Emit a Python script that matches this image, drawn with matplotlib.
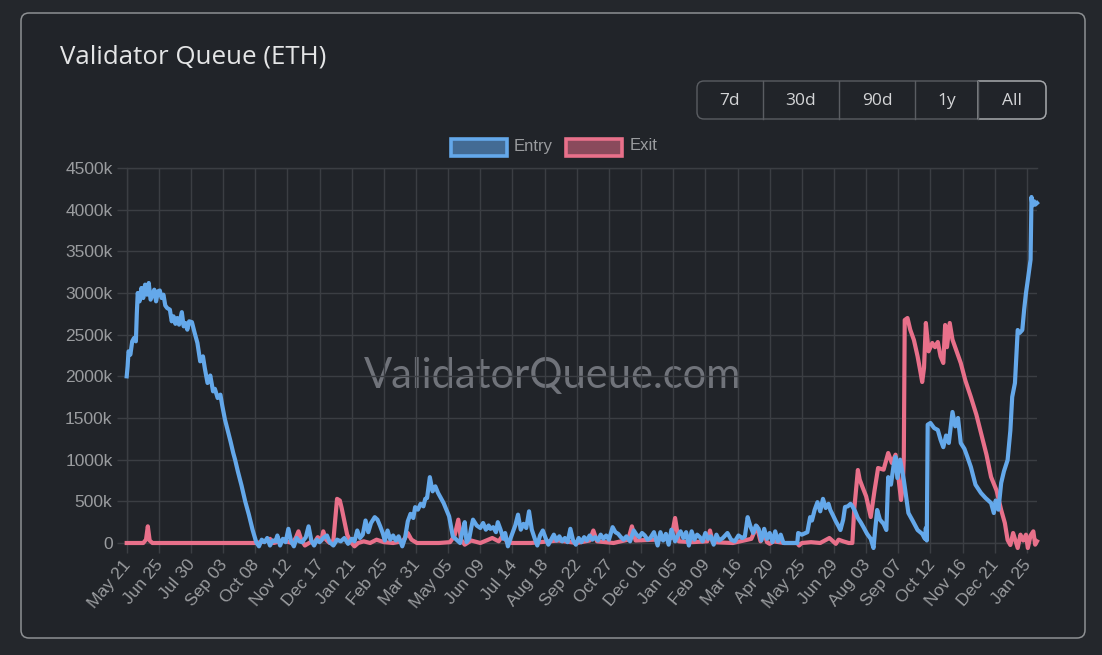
import matplotlib
matplotlib.use('Agg')
import matplotlib.pyplot as plt
from matplotlib.patches import FancyBboxPatch, PathPatch, Rectangle
from matplotlib.path import Path
from matplotlib.transforms import ScaledTranslation

# x axis is in days since the first label, values are thousands of ETH
date_labels = ['May 21', 'Jun 25', 'Jul 30', 'Sep 03', 'Oct 08', 'Nov 12', 'Dec 17', 'Jan 21', 'Feb 25', 'Mar 31',
               'May 05', 'Jun 09', 'Jul 14', 'Aug 18', 'Sep 22', 'Oct 27', 'Dec 01', 'Jan 05', 'Feb 09', 'Mar 16',
               'Apr 20', 'May 25', 'Jun 29', 'Aug 03', 'Sep 07', 'Oct 12', 'Nov 16', 'Dec 21', 'Jan 25']
date_ticks = [35 * i for i in range(len(date_labels))]
value_ticks = [0, 500, 1000, 1500, 2000, 2500, 3000, 3500, 4000, 4500]
range_buttons = ['7d', '30d', '90d', '1y', 'All']

# (day, value)
entry_points = [
    (0, 2000), (1, 2120), (2, 2300), (4, 2260), (6, 2420), (8, 2460), (10, 2420), (11, 2750), (12, 3000), (14, 2900),
    (16, 3060), (18, 2940), (20, 3100), (22, 2980), (24, 3120), (26, 2920), (28, 2980), (30, 3040), (32, 2900),
    (34, 3020), (36, 3030), (38, 2940), (40, 2980), (42, 2850), (44, 2820), (47, 2800), (49, 2660), (51, 2720),
    (53, 2630), (55, 2700), (57, 2620), (60, 2770), (62, 2600), (64, 2640), (66, 2560), (68, 2660), (71, 2650),
    (74, 2520), (77, 2400), (80, 2180), (83, 2240), (85, 2100), (88, 1920), (91, 2010), (94, 1820), (96, 1850),
    (99, 1740), (102, 1780), (104, 1650), (107, 1480), (110, 1350), (113, 1220), (116, 1080), (118, 1000), (121, 860),
    (125, 690), (129, 500), (133, 340), (137, 160), (141, 10),
    (144, -40), (147, 40), (150, 10), (153, 60), (156, -30), (159, 30), (162, 20), (164, 90), (167, -30), (170, 50),
    (173, 10), (176, 170), (179, 20), (182, -40), (185, 60), (188, 20), (191, 10), (195, 70), (198, 200), (201, 30),
    (204, -30), (207, 40), (210, 10), (214, 60), (218, 90), (221, 10), (225, -30), (229, 40), (233, 20), (237, 60),
    (241, -10), (245, 50), (248, 20), (251, 150), (254, 60), (257, 100), (260, 270), (263, 130), (266, 240), (270, 310),
    (273, 280), (276, 200), (279, 110), (281, 30), (284, 150), (287, 40), (290, 90), (293, 30), (296, 80), (300, -40),
    (303, 60), (306, 260), (309, 350), (312, 300), (314, 430), (317, 400), (320, 470), (323, 440), (325, 530),
    (327, 540), (330, 790), (333, 620), (336, 680), (339, 600), (342, 540), (345, 480), (348, 400), (351, 320),
    (355, 80), (359, 40), (363, 0), (365, 120), (368, 250), (370, 10), (373, 60), (375, 180), (377, 280), (381, 210),
    (385, 180), (388, 240), (391, 160), (394, 210), (396, 170), (399, 190), (402, 130), (404, 250), (407, 160),
    (410, 50), (412, 120), (415, -40), (418, 60), (421, 150), (423, 210), (426, 340), (429, 160), (432, 230),
    (435, 180), (438, 380), (441, 160), (444, 60), (447, -30), (450, 90), (453, 150), (456, 60), (459, -20), (462, 40),
    (465, 100), (468, 30), (471, 80), (474, 20), (477, 60), (480, 10), (483, 170), (486, 30), (489, -20), (492, 60),
    (495, 10), (498, 70), (501, 30), (504, 90), (507, 40), (510, 70), (513, 30), (516, 100), (519, 50), (522, 90),
    (525, 40), (529, 190), (532, 130), (535, 110), (538, 70), (541, 40), (544, 80), (548, 20), (552, 150), (555, 100),
    (558, 70), (561, 120), (564, 90), (567, 40), (570, 60), (574, 130), (578, -30), (581, 130), (584, 30), (587, 110),
    (590, -20), (593, 160), (597, 20), (600, 90), (603, 140), (606, 60), (609, 130), (612, -30), (615, 140), (618, 40),
    (621, 100), (624, 70), (627, 20), (630, 120), (633, 50), (636, 80), (639, -20), (642, 100), (645, 30), (649, 60),
    (654, 120), (658, 40), (662, 20), (666, 90), (670, 60), (673, 80), (676, 310), (679, 200), (682, 120), (685, 210),
    (688, 170), (691, 30), (694, 170), (697, 50), (700, 120), (703, 10), (706, 140), (709, 20), (712, 100), (715, 0),
    (722, 0), (730, 0), (731, 120), (735, 100), (741, 130), (744, 310), (746, 270), (749, 400), (752, 490), (755, 380),
    (758, 530), (761, 420), (764, 470), (766, 396), (769, 330), (772, 260), (775, 200), (777, 156), (780, 280),
    (782, 432), (785, 440), (788, 470), (790, 440), (793, 380), (796, 300), (799, 250), (802, 192), (806, 110),
    (810, 50), (813, -60), (815, 180), (817, 396), (820, 280), (824, 230), (827, 156), (829, 790), (832, 700),
    (835, 940), (837, 1032), (839, 780), (842, 1000), (846, 756), (851, 360), (856, 260), (861, 156), (866, 110),
    (869, 50), (870, 180), (871, 30), (872, 1420), (875, 1440), (879, 1380), (883, 1356), (886, 1240), (889, 1150),
    (892, 1290), (895, 1200), (899, 1572), (902, 1400), (905, 1500), (908, 1200), (912, 1130), (915, 1040), (919, 912),
    (924, 700), (930, 600), (935, 540), (941, 480), (944, 360), (946, 510), (949, 400), (952, 720), (955, 860),
    (959, 996), (962, 1350), (964, 1752), (967, 1920), (970, 2556), (972, 2520), (975, 2556), (977, 2800), (979, 3000),
    (981, 3156), (984, 3400), (985, 4152), (986, 4050), (988, 4100), (989, 4060), (991, 4080),
]
exit_points = [
    (0, 0), (18, 0), (21, 40), (23, 200), (25, 30), (28, 0), (45, 0), (80, 0), (100, 0), (141, 0), (150, 20),
    (156, 50), (160, 0), (170, 30), (180, 0), (184, 60), (187, 140), (190, 40), (194, -30), (200, 10), (204, 0),
    (208, 70), (212, 30), (214, 140), (217, 40), (221, 0), (225, 30), (229, 530), (232, 510), (234, 420), (237, 260),
    (240, 100), (244, 10), (248, -40), (252, 0), (258, 20), (265, 0), (272, 40), (280, 10), (290, 0), (300, 20),
    (303, 60), (306, 120), (310, 40), (316, 0), (340, 0), (352, 10), (357, 90), (361, 280), (364, 40), (368, -20),
    (375, 30), (385, 0), (398, 60), (405, 20), (410, 100), (414, 10), (420, 0), (440, 0), (470, 30), (490, 0),
    (504, 30), (508, 150), (512, 20), (530, 0), (546, 40), (550, 200), (554, 30), (575, 40), (593, 60), (597, 300),
    (601, 20), (615, 10), (632, 20), (635, 150), (638, 10), (660, 0), (680, 50), (686, 200), (690, 20), (694, 120),
    (697, 10), (700, -10), (704, 20), (716, 0), (730, 0), (732, -30), (735, 0), (745, 10), (755, 0), (765, 60),
    (772, -10), (775, 40), (780, 20), (786, 0), (790, 0), (792, 400), (796, 876), (798, 760), (801, 672), (805, 560),
    (810, 312), (814, 620), (818, 900), (824, 880), (829, 1080), (833, 960), (837, 1060), (840, 800), (843, 516),
    (845, 700), (846, 1032), (847, 2676), (850, 2700), (853, 2560), (857, 2436), (861, 2240), (864, 2060), (866, 1932),
    (868, 2100), (870, 2640), (873, 2300), (877, 2400), (880, 2350), (883, 2412), (886, 2240), (889, 2160), (891, 2616),
    (893, 2350), (896, 2640), (899, 2440), (903, 2316), (908, 2160), (913, 1950), (919, 1752), (925, 1540), (930, 1320),
    (936, 1060), (941, 792), (947, 630), (952, 396), (956, 240), (959, 36), (962, -24), (965, 120), (968, 10),
    (970, -60), (973, 100), (976, 30), (979, 100), (981, -60), (984, 90), (987, 140), (989, -20), (991, 20),
]
entry_days, entry_values = zip(*entry_points)
exit_days, exit_values = zip(*exit_points)

BG = '#212429'
ENTRY = '#64a8ea'
EXIT = '#e8708a'
GRID = '#3b3e43'
TICK = '#9a9c9f'
W, H = 1102, 655

fig = plt.figure(figsize=(W / 100, H / 100), dpi=100, facecolor='#24272c')

# overlay in pixel coordinates for the card, buttons and legend
page = fig.add_axes([0, 0, 1, 1])
page.set_xlim(0, W)
page.set_ylim(H, 0)
page.axis('off')
page.add_patch(FancyBboxPatch((21, 13), 1064, 625, boxstyle='round,pad=0,rounding_size=8', fc=BG, ec='#8d9093', lw=1.1))
page.text(60, 57, 'Validator Queue (ETH)', color='#e4e5e6', fontsize=18.6, family='Open Sans', va='center')
page.text(553, 376, 'ValidatorQueue.com', color='#70737a', fontsize=30, family='Lato', ha='center', va='center')

# range selector
edges = [697, 763, 839, 915, 978, 1046]
page.add_patch(FancyBboxPatch((697, 81), 349, 38, boxstyle='round,pad=0,rounding_size=7', fc='none', ec='#5a5d62', lw=1))
for edge in edges[1:-1]:
    page.plot([edge, edge], [81, 119], color='#5a5d62', lw=1)
all_box = Path([(978, 81), (1039, 81), (1046, 81), (1046, 88), (1046, 112), (1046, 119), (1039, 119), (978, 119),
                (978, 81)],
               [Path.MOVETO, Path.LINETO, Path.CURVE3, Path.CURVE3, Path.LINETO, Path.CURVE3, Path.CURVE3, Path.LINETO,
                Path.CLOSEPOLY])
page.add_patch(PathPatch(all_box, fc='none', ec='#a5a7aa', lw=1))
for i, name in enumerate(range_buttons):
    page.text((edges[i] + edges[i + 1]) / 2, 101, name, color='#d4d5d7', fontsize=12.5, family='Open Sans',
              ha='center', va='center')

# legend
page.add_patch(Rectangle((450.5, 138.5), 56, 17.5, fc='#436b94', ec=ENTRY, lw=2.6))
page.text(514, 146, 'Entry', color=TICK, fontsize=12, family='Liberation Sans', va='center')
page.add_patch(Rectangle((566, 138.5), 56, 17.5, fc='#8a4a5c', ec=EXIT, lw=2.6))
page.text(630, 146, 'Exit', color=TICK, fontsize=12, family='Liberation Sans', va='center')

ax = fig.add_axes([126.7 / W, 1 - 543 / H, (1037 - 126.7) / W, (543 - 168) / H])
ax.patch.set_alpha(0)
ax.plot(exit_days, exit_values, color=EXIT, lw=3, clip_on=False, solid_joinstyle='round', zorder=3)
ax.plot(entry_days, entry_values, color=ENTRY, lw=3, clip_on=False, solid_joinstyle='round', zorder=4)

ax.set_xlim(0, 991)
ax.set_ylim(0, 4500)
ax.set_xticks(date_ticks)
ax.set_xticklabels(date_labels, rotation=50, ha='right', rotation_mode='anchor')
ax.set_yticks(value_ticks)
ax.set_yticklabels(['0' if v == 0 else '%dk' % v for v in value_ticks])
ax.grid(True, color=GRID, lw=1)
ax.set_axisbelow(True)
ax.tick_params(axis='both', length=7.2, width=1, color=GRID, labelcolor=TICK, labelsize=12.5, pad=3)
for label in ax.get_yticklabels():
    label.set_family('Liberation Sans')
# date labels sit a little left of their ticks
shift = ScaledTranslation(-3 / 72, 0, fig.dpi_scale_trans)
for label in ax.get_xticklabels():
    label.set_family('Liberation Sans')
    label.set_transform(label.get_transform() + shift)
for side in ['top', 'right', 'bottom', 'left']:
    ax.spines[side].set_color(GRID)
    ax.spines[side].set_linewidth(1)
ax.spines['right'].set_visible(False)

fig.savefig('out.png', dpi=100, facecolor=fig.get_facecolor())
